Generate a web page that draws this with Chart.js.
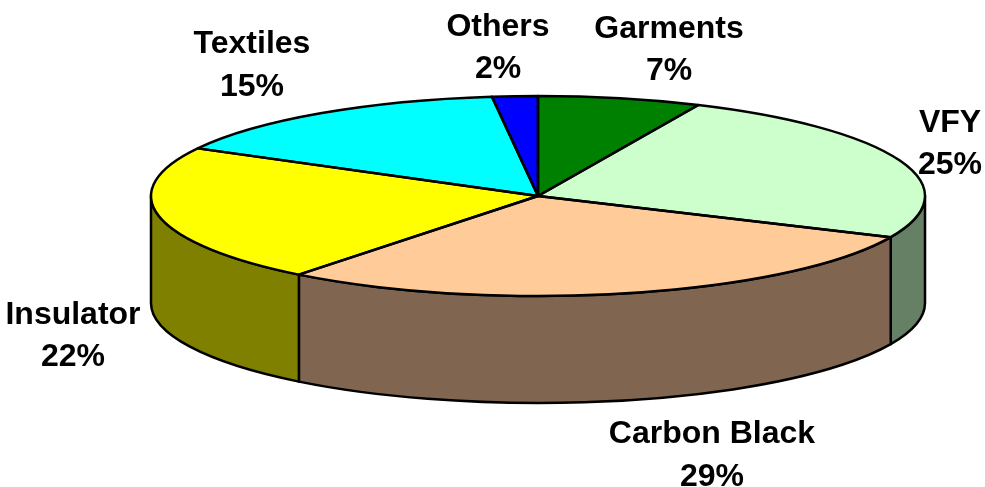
<!DOCTYPE html>
<html>
<head>
<meta charset="utf-8">
<script src="https://cdn.jsdelivr.net/npm/chart.js@4"></script>
<style>
  html, body { margin: 0; padding: 0; background: #fff; }
  #wrap { width: 985px; height: 487px; }
</style>
</head>
<body>
<div id="wrap"><canvas id="pie" width="985" height="487"></canvas></div>
<script>
const categories = ['Garments', 'VFY', 'Carbon Black', 'Insulator', 'Textiles', 'Others'];
const shares = [6.8, 24.95, 28.85, 22.3, 15.2, 1.9];
const shareLabels = ['7%', '25%', '29%', '22%', '15%', '2%'];

const topColors = ['#008000', '#ccffcc', '#ffcc99', '#ffff00', '#00ffff', '#0000ff'];
const wallColors = ['#004000', '#668066', '#806650', '#808000', '#008080', '#000080'];

// [x centre, name baseline, percent baseline]
const labelSpots = [
  [669, 38, 80],
  [950, 132, 174],
  [712, 443, 486],
  [73, 324, 366],
  [252, 53, 96],
  [498, 36, 78],
];

// where the flattened pie sits on the page
const PIE = { cx: 538, cy: 196, rx: 387, ry: 100, depth: 107 };
const LINE_W = 2.5;

function ellipseSlice(ctx, a0, a1) {
  ctx.beginPath();
  ctx.moveTo(PIE.cx, PIE.cy);
  ctx.ellipse(PIE.cx, PIE.cy, PIE.rx, PIE.ry, 0, a0, a1);
  ctx.closePath();
}

function wallPath(ctx, a0, a1) {
  const bottom = PIE.cy + PIE.depth;
  ctx.beginPath();
  ctx.ellipse(PIE.cx, PIE.cy, PIE.rx, PIE.ry, 0, a0, a1);
  ctx.ellipse(PIE.cx, bottom, PIE.rx, PIE.ry, 0, a1, a0, true);
  ctx.closePath();
}

// squashes the doughnut controller's arcs into a tilted disc, with side walls under it
const tiltPlugin = {
  id: 'tilt',
  beforeDatasetsDraw(chart) {
    const ctx = chart.ctx;
    const arcs = chart.getDatasetMeta(0).data;
    ctx.save();
    ctx.lineWidth = LINE_W;
    ctx.strokeStyle = '#000';
    ctx.lineJoin = 'round';
    arcs.forEach((arc, i) => {
      const a0 = Math.max(arc.startAngle, 0);
      const a1 = Math.min(arc.endAngle, Math.PI);
      if (a1 <= a0) return;
      wallPath(ctx, a0, a1);
      ctx.fillStyle = wallColors[i];
      ctx.fill();
      ctx.stroke();
    });
    ctx.restore();

    const first = arcs[0];
    ctx.save();
    ctx.translate(PIE.cx, PIE.cy);
    ctx.scale(PIE.rx / first.outerRadius, PIE.ry / first.outerRadius);
    ctx.translate(-first.x, -first.y);
  },
  afterDatasetsDraw(chart) {
    const ctx = chart.ctx;
    ctx.restore();
    ctx.save();
    ctx.lineWidth = LINE_W;
    ctx.strokeStyle = '#000';
    ctx.lineJoin = 'round';
    chart.getDatasetMeta(0).data.forEach((arc) => {
      ellipseSlice(ctx, arc.startAngle, arc.endAngle);
      ctx.stroke();
    });
    ctx.restore();
  },
  afterDraw(chart) {
    const ctx = chart.ctx;
    ctx.save();
    ctx.fillStyle = '#000';
    ctx.font = 'bold 32px "Liberation Sans", Arial, sans-serif';
    ctx.textAlign = 'center';
    categories.forEach((name, i) => {
      const spot = labelSpots[i];
      ctx.fillText(name, spot[0], spot[1]);
      ctx.fillText(shareLabels[i], spot[0], spot[2]);
    });
    ctx.restore();
  },
};

new Chart(document.getElementById('pie'), {
  type: 'pie',
  data: {
    labels: categories,
    datasets: [{
      data: shares,
      backgroundColor: topColors,
      borderWidth: 0,
      clip: false,
    }],
  },
  options: {
    responsive: false,
    animation: false,
    layout: { padding: 0 },
    plugins: { legend: { display: false }, tooltip: { enabled: false } },
  },
  plugins: [tiltPlugin],
});
</script>
</body>
</html>
